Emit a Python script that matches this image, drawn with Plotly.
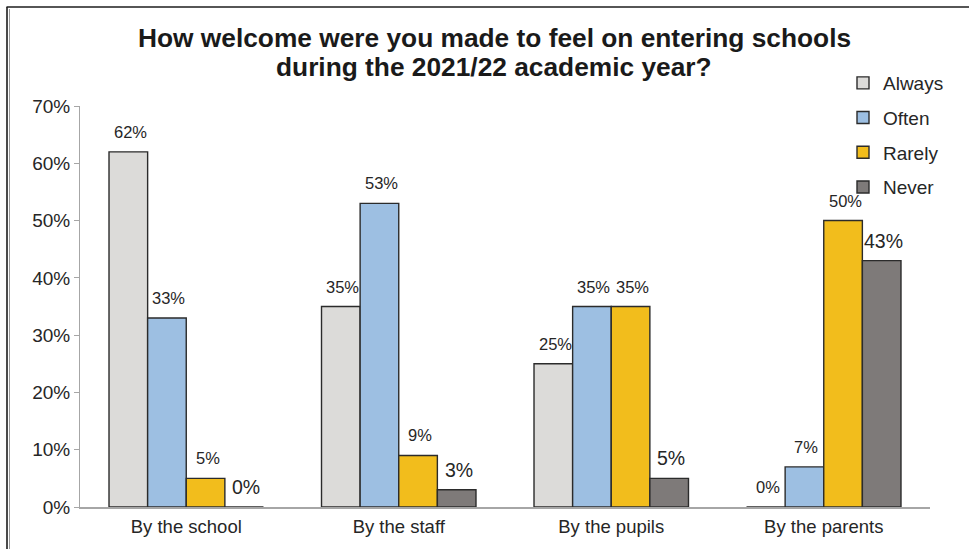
import plotly.graph_objects as go

# ---- data ----
categories = ["By the school", "By the staff", "By the pupils", "By the parents"]
series_names = ["Always", "Often", "Rarely", "Never"]
always = [62, 35, 25, 0]
often = [33, 53, 35, 7]
rarely = [5, 9, 35, 50]
never = [0, 3, 5, 43]
y_ticks = [0, 10, 20, 30, 40, 50, 60, 70]
y_tick_labels = ["0%", "10%", "20%", "30%", "40%", "50%", "60%", "70%"]

# ---- style ----
W, H = 969, 549
ML, MR, MT, MB = 80, 39, 106, 42
BARGAP = 0.273
colors = ["#DCDBD9", "#9DBFE2", "#F2BD1C", "#7E7A79"]
label_sizes = [16.5, 16.5, 16.5, 19.5]
FONT = "Liberation Sans, Arial, sans-serif"
TXT = "#262626"

values = [always, often, rarely, never]

fig = go.Figure()
for j, (name, vals) in enumerate(zip(series_names, values)):
    fig.add_trace(go.Bar(
        x=categories, y=vals, name=name, legendgroup=name,
        marker=dict(color=colors[j], line=dict(color="#2B2B2B", width=1.4)),
        hoverinfo="skip",
    ))

# data labels
bar_w = (1 - BARGAP) / len(values)
annotations = []
for j, vals in enumerate(values):
    off = -(1 - BARGAP) / 2 + (j + 0.5) * bar_w
    for i, v in enumerate(vals):
        annotations.append(dict(
            x=i + off, y=v, xref="x", yref="y", text=f"{v}%",
            showarrow=False, yanchor="middle", xanchor="center",
            yshift=20, xshift=2,
            font=dict(family=FONT, size=label_sizes[j], color=TXT),
        ))

pw = W - ML - MR
ph = H - MT - MB


def px_x(p):
    return (p - ML) / pw


def px_y(p):
    return (H - MB - p) / ph


# title as two centred lines
title_lines = ["How welcome were you made to feel on entering schools",
               "during the 2021/22 academic year?"]
for k, (line, ypx) in enumerate(zip(title_lines, [38, 67])):
    annotations.append(dict(
        x=px_x(494), y=px_y(ypx), xref="paper", yref="paper", text=f"<b>{line}</b>",
        showarrow=False, xanchor="center", yanchor="middle",
        font=dict(family=FONT, size=26.3, color="#1A1A1A"),
    ))

shapes = [
    dict(type="line", xref="paper", yref="paper", x0=px_x(6.5), x1=px_x(975),
         y0=px_y(7), y1=px_y(7), line=dict(color="#1E1E1E", width=1.6)),
    dict(type="line", xref="paper", yref="paper", x0=px_x(7), x1=px_x(7),
         y0=px_y(7), y1=px_y(560), line=dict(color="#1E1E1E", width=1.6)),
    dict(type="line", xref="paper", yref="paper", x0=px_x(9.5), x1=px_x(9.5),
         y0=px_y(9), y1=px_y(560), line=dict(color="#9A9A9A", width=1)),
]

fig.update_layout(
    width=W, height=H,
    margin=dict(l=ML, r=MR, t=MT, b=MB),
    paper_bgcolor="white", plot_bgcolor="white",
    barmode="group", bargap=BARGAP, bargroupgap=0,
    font=dict(family=FONT, color=TXT),
    showlegend=True,
    legend=dict(
        x=px_x(843), y=px_y(64), xanchor="left", yanchor="top",
        xref="paper", yref="paper",
        font=dict(family=FONT, size=19, color=TXT),
        itemwidth=30, tracegroupgap=7, bgcolor="rgba(0,0,0,0)",
    ),
    annotations=annotations,
    shapes=shapes,
    xaxis=dict(
        showline=True, linecolor="#A6A6A6", linewidth=1.5,
        ticks="", showgrid=False, zeroline=False,
        tickfont=dict(family=FONT, size=18.5, color=TXT),
        ticklabelstandoff=2,
    ),
    yaxis=dict(
        range=[0, 70], tickvals=y_ticks, ticktext=y_tick_labels,
        showline=True, linecolor="#A6A6A6", linewidth=1,
        ticks="outside", ticklen=5, tickcolor="#A6A6A6",
        showgrid=False, zeroline=False,
        tickfont=dict(family=FONT, size=19, color=TXT),
    ),
)

fig.write_html(
    "out.html",
    config={"displayModeBar": False},
    post_script="document.body.style.margin='0px';document.body.style.overflow='hidden';",
)
